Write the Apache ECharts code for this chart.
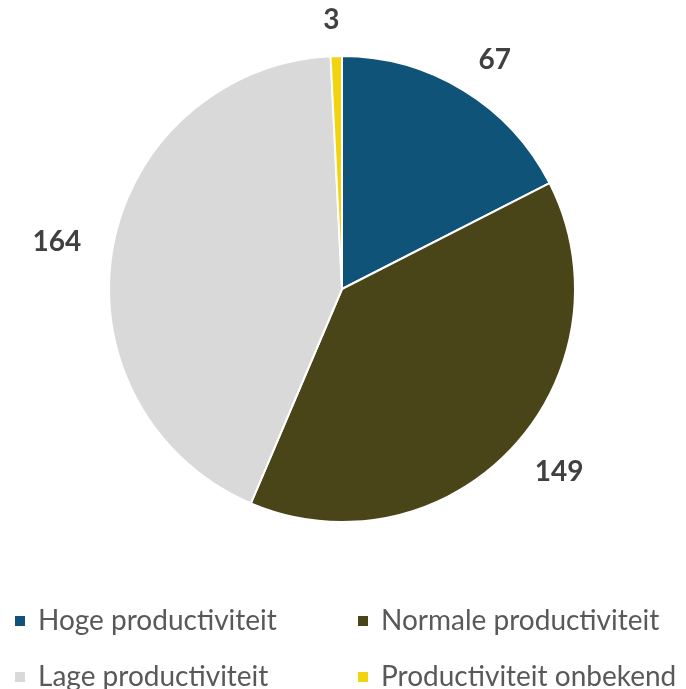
<!DOCTYPE html>
<html>
<head>
<meta charset="utf-8">
<script src="https://cdn.jsdelivr.net/npm/echarts@6/dist/echarts.min.js"></script>
<style>
  html, body { margin: 0; padding: 0; background: #fff; }
  #chart { width: 686px; height: 689px; }
</style>
</head>
<body>
<div id="chart"></div>
<script>
// Productivity groups and their counts
const categories = ['Hoge productiviteit', 'Normale productiviteit', 'Lage productiviteit', 'Productiviteit onbekend'];
const counts = [67, 149, 164, 3];
const colors = ['#0F5478', '#4A4518', '#D9D9D9', '#F2D30F'];

const chart = echarts.init(document.getElementById('chart'), null, { renderer: 'canvas' });

chart.setOption({
  animation: false,
  color: colors,
  legend: {
    data: categories,
    orient: 'horizontal',
    left: 13,
    top: 607,
    padding: 0,
    itemWidth: 12,
    itemHeight: 12,
    itemGap: 28,
    icon: 'rect',
    textStyle: {
      color: '#595959',
      fontFamily: 'Lato',
      fontSize: 28,
      lineHeight: 27,
      width: 290,
      overflow: 'none',
      padding: [0, 0, 0, 7]
    }
  },
  series: [{
    type: 'pie',
    center: [342, 289],
    radius: 233,
    startAngle: 90,
    clockwise: true,
    avoidLabelOverlap: false,
    itemStyle: { borderColor: '#ffffff', borderWidth: 2 },
    label: {
      show: true,
      position: 'outside',
      formatter: '{c}',
      color: '#404040',
      fontFamily: 'Lato',
      fontWeight: 'bold',
      fontSize: 28,
      distanceToLabelLine: -4
    },
    labelLine: { show: false, length: 36, length2: 0 },
    data: categories.map((name, i) => ({ name: name, value: counts[i] }))
  }]
});
</script>
</body>
</html>
